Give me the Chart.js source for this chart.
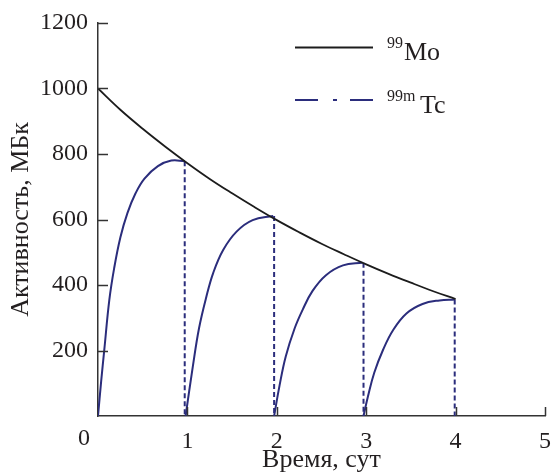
<!DOCTYPE html>
<html>
<head>
<meta charset="utf-8">
<script src="https://cdn.jsdelivr.net/npm/chart.js@4"></script>
<style>
  html, body { margin: 0; padding: 0; background: #fff; }
  #wrap { width: 554px; height: 476px; position: relative; }
</style>
</head>
<body>
<div id="wrap"><canvas id="decayChart"></canvas></div>
<script>
// 99Mo parent activity
const moDays = [0, 0.25, 0.5, 0.75, 1, 1.25, 1.5, 1.75, 2, 2.25, 2.5, 2.75, 3, 3.25, 3.5, 3.75, 4];
const moActivity = [1000, 935, 877, 823, 772, 724, 680, 638, 598, 561, 526, 494, 463, 434, 407, 381, 357];

// 99mTc ingrowth after each elution
const tc1Days = [0, 0.035, 0.07, 0.127, 0.18, 0.25, 0.33, 0.42, 0.52, 0.67, 0.82, 0.97];
const tc1Activity = [0, 105, 201, 355, 450, 545, 620, 680, 725, 763, 780, 778];
const tc2Days = [0.98, 1.06, 1.13, 1.21, 1.29, 1.40, 1.55, 1.73, 1.96];
const tc2Activity = [0, 150, 268, 362, 438, 507, 563, 598, 611];
const tc3Days = [1.97, 2.03, 2.10, 2.20, 2.29, 2.40, 2.55, 2.74, 2.96];
const tc3Activity = [0, 92, 182, 268, 325, 382, 430, 460, 468];
const tc4Days = [2.97, 3.02, 3.09, 3.19, 3.30, 3.45, 3.63, 3.82, 3.99];
const tc4Activity = [0, 60, 132, 203, 262, 313, 342, 353, 356];

// elution moments (vertical dashed drops)
const elutionDays = [0.97, 1.97, 2.97, 3.99];
const elutionActivity = [778, 611, 468, 356];

const xTicks = [0, 1, 2, 3, 4, 5];
const yTicks = [200, 400, 600, 800, 1000, 1200];

const NAVY = '#2b2d7c';
const BLACK = '#1c1c1c';
const AXIS = '#333333';
const FONT = "'Liberation Serif', 'Times New Roman', serif";

function pts(xs, ys) {
    return xs.map((x, i) => ({ x: x, y: ys[i] }));
}

const datasets = [{
    label: 'Mo',
    data: pts(moDays, moActivity),
    borderColor: BLACK,
    borderWidth: 1.8,
    pointRadius: 0,
    tension: 0.4
}];

[[tc1Days, tc1Activity], [tc2Days, tc2Activity], [tc3Days, tc3Activity], [tc4Days, tc4Activity]].forEach(function(run) {
    datasets.push({
        label: 'Tc',
        data: pts(run[0], run[1]),
        borderColor: NAVY,
        borderWidth: 2,
        pointRadius: 0,
        tension: 0.4
    });
});

elutionDays.forEach(function(d, i) {
    datasets.push({
        label: 'drop',
        data: [{ x: d, y: elutionActivity[i] }, { x: d, y: 0 }],
        borderColor: NAVY,
        borderWidth: 2,
        borderDash: [5, 3],
        pointRadius: 0
    });
});

// inward tick marks, the lone "0" at origin and the legend
const decorations = {
    id: 'decorations',
    afterDraw(chart) {
        const ctx = chart.ctx;
        const x = chart.scales.x, y = chart.scales.y;
        const area = chart.chartArea;
        ctx.save();
        ctx.strokeStyle = AXIS;
        ctx.lineWidth = 1.5;
        yTicks.forEach(function(v) {
            const py = Math.round(y.getPixelForValue(v)) + 0.5;
            ctx.beginPath();
            ctx.moveTo(area.left, py);
            ctx.lineTo(area.left + 10, py);
            ctx.stroke();
        });
        xTicks.slice(1).forEach(function(v) {
            const px = Math.round(x.getPixelForValue(v)) + 0.5;
            ctx.beginPath();
            ctx.moveTo(px, area.bottom);
            ctx.lineTo(px, area.bottom - 9);
            ctx.stroke();
        });

        ctx.fillStyle = '#231f20';
        ctx.font = '24px ' + FONT;
        ctx.textAlign = 'center';
        ctx.textBaseline = 'middle';
        ctx.fillText('0', x.getPixelForValue(0) - 14, 439);

        // legend
        ctx.textAlign = 'left';
        ctx.textBaseline = 'alphabetic';
        ctx.strokeStyle = BLACK;
        ctx.lineWidth = 1.8;
        ctx.beginPath();
        ctx.moveTo(295, 47.5);
        ctx.lineTo(373, 47.5);
        ctx.stroke();
        ctx.font = '16px ' + FONT;
        ctx.fillText('99', 387, 48);
        ctx.font = '26px ' + FONT;
        ctx.fillText('Mo', 404, 60);

        ctx.strokeStyle = NAVY;
        ctx.lineWidth = 2;
        ctx.setLineDash([23, 15, 4, 13]);
        ctx.beginPath();
        ctx.moveTo(295, 100);
        ctx.lineTo(373, 100);
        ctx.stroke();
        ctx.setLineDash([]);
        ctx.font = '16px ' + FONT;
        ctx.fillText('99m', 387, 101);
        ctx.font = '26px ' + FONT;
        ctx.fillText('Tc', 420, 113);
        ctx.restore();
    }
};

new Chart(document.getElementById('decayChart').getContext('2d'), {
    type: 'line',
    data: { datasets: datasets },
    plugins: [decorations],
    options: {
        responsive: true,
        maintainAspectRatio: false,
        animation: false,
        events: [],
        layout: { padding: { top: 23, right: 9, bottom: 0, left: 6 } },
        plugins: { legend: { display: false }, tooltip: { enabled: false } },
        scales: {
            x: {
                type: 'linear',
                min: 0,
                max: 5,
                afterBuildTicks: function(s) { s.ticks = xTicks.map(v => ({ value: v })); },
                afterFit: function(s) { s.height = 60; },
                grid: { display: false },
                border: { display: true, color: AXIS, width: 1.5 },
                ticks: {
                    color: '#231f20',
                    font: { family: FONT, size: 24 },
                    padding: 3,
                    maxRotation: 0,
                    callback: v => (v === 0 ? '' : String(v))
                },
                title: {
                    display: true,
                    text: 'Время, сут',
                    color: '#231f20',
                    font: { family: FONT, size: 26 },
                    padding: { top: -3, bottom: 0 }
                }
            },
            y: {
                min: 0,
                max: 1200,
                afterBuildTicks: function(s) { s.ticks = yTicks.map(v => ({ value: v })); },
                afterFit: function(s) { s.width = 92; },
                grid: { display: false },
                border: { display: true, color: AXIS, width: 1.5 },
                ticks: {
                    color: '#231f20',
                    font: { family: FONT, size: 24 },
                    padding: 2,
                    callback: v => String(v)
                },
                title: {
                    display: true,
                    text: 'Активность, МБк',
                    color: '#231f20',
                    font: { family: FONT, size: 26 },
                    padding: { top: 0, bottom: 4 }
                }
            }
        }
    }
});
</script>
</body>
</html>
